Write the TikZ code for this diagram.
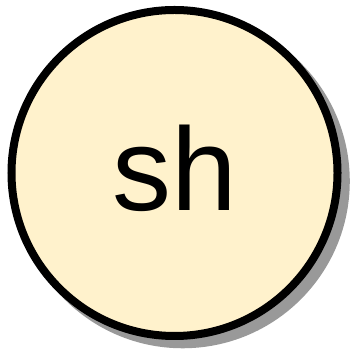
\documentclass[tikz,border=0pt]{standalone}
\usepackage{fontspec}
\setmainfont{Liberation Sans}
\usetikzlibrary{shadows}
\definecolor{notefill}{HTML}{FFF2CC}
\definecolor{notedrop}{RGB}{153,153,153}

\begin{document}
\begin{tikzpicture}[
  x=1pt, y=1pt,
  statenode/.style={circle, draw=black, line width=8pt, fill=notefill, minimum size=326pt, inner sep=0pt,
    font=\fontsize{118}{118}\selectfont, text depth=10.5pt,
    general shadow={fill=notedrop, shadow scale=1.025, shadow xshift=8pt, shadow yshift=-8pt}},
]
\useasboundingbox (0,0) rectangle (352,352);
\node[statenode] (sh) at (174.5,179) {sh};
\end{tikzpicture}
\end{document}
